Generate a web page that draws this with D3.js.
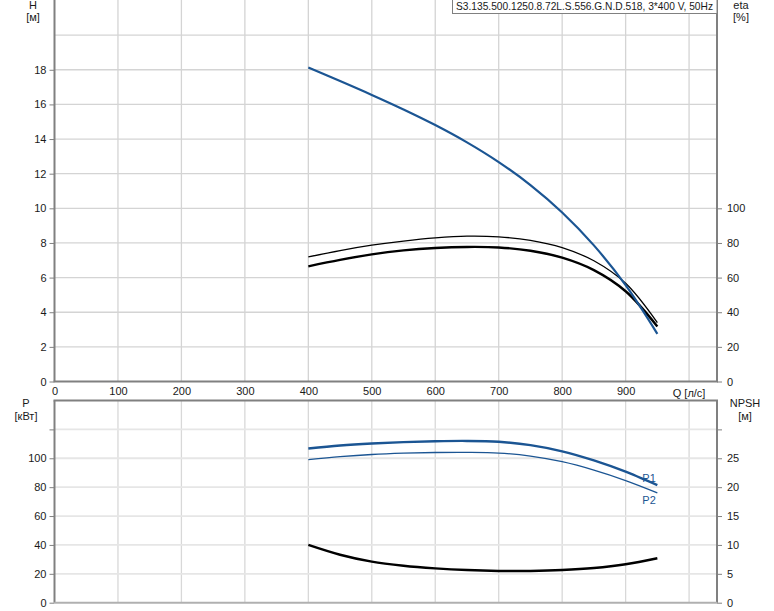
<!DOCTYPE html>
<html><head><meta charset="utf-8">
<script src="https://cdn.jsdelivr.net/npm/d3@7"></script>
<style>
html,body{margin:0;padding:0;background:#fff;}
svg text{font-family:"Liberation Sans",Arial,sans-serif;}
</style></head>
<body>
<svg id="chart" width="774" height="611"></svg>
<script>
// ---- data ----
const title = "S3.135.500.1250.8.72L.S.556.G.N.D.518, 3*400 V, 50Hz";
const qValues   = [400, 450, 500, 550, 600, 650, 700, 750, 800, 850, 900, 950];
const headH     = [18.13, 17.35, 16.55, 15.71, 14.81, 13.81, 12.67, 11.34, 9.76, 7.86, 5.56, 2.75];
const etaHyd    = [71.9, 75.6, 78.7, 81.1, 82.9, 83.9, 83.5, 81.5, 77.3, 69.7, 56.7, 34.0];
const etaTotal  = [66.5, 70.2, 73.4, 75.7, 77.1, 77.7, 77.4, 75.5, 71.5, 64.3, 52.1, 31.8];
const powerP1   = [106.8, 108.8, 110.2, 111.2, 111.8, 112.0, 111.4, 109.1, 104.8, 98.5, 90.7, 81.4];
const powerP2   = [99.1, 101.1, 102.6, 103.5, 104.0, 104.1, 103.6, 101.5, 97.6, 91.8, 84.6, 76.1];
const npsh      = [10.0, 8.3, 7.1, 6.4, 5.95, 5.65, 5.5, 5.5, 5.65, 6.0, 6.65, 7.7];
const qTicks    = [0, 100, 200, 300, 400, 500, 600, 700, 800, 900];
const qGrid     = [100, 200, 300, 400, 500, 600, 700, 800, 900, 1000];
const hTicks    = [0, 2, 4, 6, 8, 10, 12, 14, 16, 18];
const hGrid     = [2, 4, 6, 8, 10, 12, 14, 16, 18, 20];
const etaTicks  = [0, 20, 40, 60, 80, 100];
const pTicks    = [0, 20, 40, 60, 80, 100, 120];
const pLabels   = [0, 20, 40, 60, 80, 100];
const npshTicks = [0, 5, 10, 15, 20, 25, 30];
const npshLabels= [0, 5, 10, 15, 20, 25];

// ---- layout ----
const svg = d3.select("#chart");
const L = 54.5, R = 717;
const x = d3.scaleLinear().domain([0, 1044]).range([L, R]);
const yH = d3.scaleLinear().domain([0, 22]).range([381.5, 0.5]);
const yEta = d3.scaleLinear().domain([0, 220]).range([381.5, 0.5]);
const yP = d3.scaleLinear().domain([0, 140]).range([602.7, 400.5]);
const yN = d3.scaleLinear().domain([0, 35]).range([602.7, 400.5]);

const axisCol = "#808080", gridCol = "#d4d4d4", textCol = "#1a1a1a";
const blue = "#1b5593";

// ---- top panel grid ----
const gTop = svg.append("g");
gTop.selectAll(".vg").data(qGrid).join("line")
  .attr("x1", d => x(d)).attr("x2", d => x(d)).attr("y1", 0).attr("y2", yH(0))
  .attr("stroke", gridCol).attr("stroke-width", 1.3);
gTop.selectAll(".hg").data(hGrid).join("line")
  .attr("x1", L).attr("x2", R).attr("y1", d => yH(d)).attr("y2", d => yH(d))
  .attr("stroke", gridCol).attr("stroke-width", 1.3);

// ---- bottom panel grid ----
const gBot = svg.append("g");
gBot.selectAll(".vg").data(qGrid).join("line")
  .attr("x1", d => x(d)).attr("x2", d => x(d)).attr("y1", yP(140)).attr("y2", yP(0))
  .attr("stroke", "#d8d8d8").attr("stroke-width", 1.3);
gBot.selectAll(".hg").data([20, 40, 60, 80, 100, 120]).join("line")
  .attr("x1", L).attr("x2", R).attr("y1", d => yP(d)).attr("y2", d => yP(d))
  .attr("stroke", "#e6e6e6").attr("stroke-width", 1.8);

// ---- axes ----
function styleAxis(g) {
  g.select(".domain").remove();
  g.selectAll(".tick line").attr("stroke", axisCol).attr("stroke-width", 1);
  g.selectAll(".tick text").attr("fill", textCol).attr("font-size", 11)
   .attr("font-family", "Liberation Sans, Arial, sans-serif");
}
svg.append("g").attr("transform", `translate(${L},0)`)
  .call(d3.axisLeft(yH).tickValues(hTicks).tickSize(5).tickPadding(3).tickFormat(d3.format("d")))
  .call(styleAxis);
svg.append("g").attr("transform", `translate(${R},0)`)
  .call(d3.axisRight(yEta).tickValues(etaTicks).tickSize(5).tickPadding(5).tickFormat(d3.format("d")))
  .call(styleAxis);
svg.append("g").attr("transform", `translate(0,${yH(0)})`)
  .call(d3.axisBottom(x).tickValues(qTicks).tickSize(0).tickPadding(6).tickFormat(d3.format("d")))
  .call(styleAxis);
svg.append("text").attr("x", x(1000)).attr("y", yH(0) + 15).attr("text-anchor", "middle")
  .attr("font-size", 11).attr("fill", textCol).text("Q [л/с]");

svg.append("g").attr("transform", `translate(${L},0)`)
  .call(d3.axisLeft(yP).tickValues(pTicks).tickSize(5).tickPadding(3)
    .tickFormat(d => pLabels.includes(d) ? d : ""))
  .call(styleAxis);
svg.append("g").attr("transform", `translate(${R},0)`)
  .call(d3.axisRight(yN).tickValues(npshTicks).tickSize(5).tickPadding(5)
    .tickFormat(d => npshLabels.includes(d) ? d : ""))
  .call(styleAxis);

// panel frame lines
const frame = svg.append("g").attr("stroke", axisCol).attr("stroke-width", 2);
frame.append("line").attr("x1", L).attr("x2", L).attr("y1", 0).attr("y2", yH(0));
frame.append("line").attr("x1", R).attr("x2", R).attr("y1", 0).attr("y2", yH(0));
frame.append("line").attr("x1", L - 1).attr("x2", R + 1).attr("y1", yH(0)).attr("y2", yH(0));
frame.append("line").attr("x1", L).attr("x2", L).attr("y1", yP(140)).attr("y2", yP(0));
frame.append("line").attr("x1", R).attr("x2", R).attr("y1", yP(140)).attr("y2", yP(0));
frame.append("line").attr("x1", L - 1).attr("x2", R + 1).attr("y1", yP(140)).attr("y2", yP(140));
svg.append("line").attr("x1", L).attr("x2", R).attr("y1", yP(0)).attr("y2", yP(0))
  .attr("stroke", "#b0b0b0").attr("stroke-width", 2);

// axis titles
function label(txt, cx, cy) {
  svg.append("text").attr("x", cx).attr("y", cy).attr("text-anchor", "middle")
    .attr("dominant-baseline", "middle").attr("font-size", 11).attr("fill", textCol).text(txt);
}
label("H", 33, 6); label("[м]", 33, 18);
label("eta", 741, 6); label("[%]", 741, 18);
label("P", 26, 404); label("[кВт]", 26, 417);
label("NPSH", 745, 404); label("[м]", 745, 417);

// title box
const tb = svg.append("g");
tb.append("rect").attr("x", 452.5).attr("y", -1).attr("width", R - 452.5)
  .attr("height", 14.5).attr("fill", "#fff").attr("stroke", axisCol).attr("stroke-width", 1);
tb.append("text").attr("x", 456).attr("y", 7).attr("dominant-baseline", "middle")
  .attr("font-size", 11).attr("fill", textCol)
  .attr("textLength", 257).attr("lengthAdjust", "spacingAndGlyphs").text(title);

// ---- curves ----
const curve = d3.curveCatmullRom.alpha(0.5);
function path(vals, ys, col, w) {
  const line = d3.line().x((d, i) => x(qValues[i])).y(d => ys(d)).curve(curve);
  svg.append("path").datum(vals).attr("d", line).attr("fill", "none")
    .attr("stroke", col).attr("stroke-width", w).attr("stroke-linecap", "butt");
}
path(etaHyd, yEta, "#000", 1.3);
path(etaTotal, yEta, "#000", 2.4);
path(headH, yH, blue, 2.2);
path(powerP1, yP, blue, 2.4);
path(powerP2, yP, blue, 1.3);
path(npsh, yN, "#000", 2.4);

const last = qValues.length - 1;
svg.append("text").attr("x", x(qValues[last]) - 15).attr("y", yP(powerP1[last]) - 6)
  .attr("dominant-baseline", "middle").attr("font-size", 11).attr("fill", blue).text("P1");
svg.append("text").attr("x", x(qValues[last]) - 15).attr("y", yP(powerP2[last]) + 8)
  .attr("dominant-baseline", "middle").attr("font-size", 11).attr("fill", blue).text("P2");
</script>
</body></html>
